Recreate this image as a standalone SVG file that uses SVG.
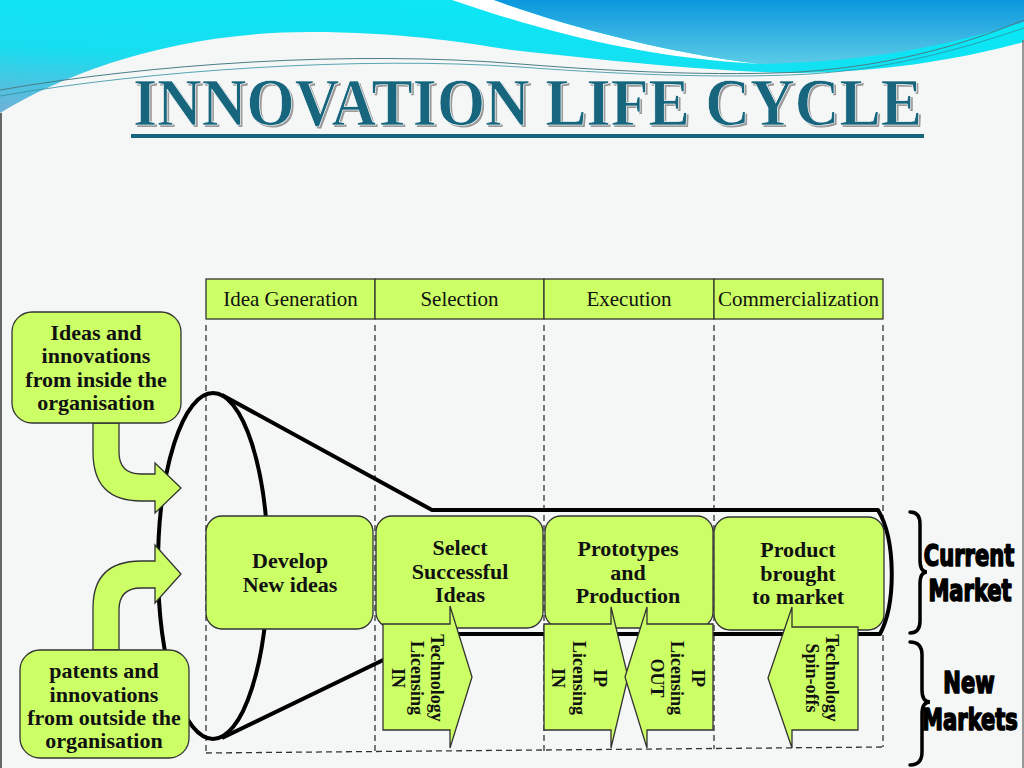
<svg xmlns="http://www.w3.org/2000/svg" width="1024" height="768" viewBox="0 0 1024 768">
<defs>
<linearGradient id="gCyan" x1="0.7" y1="0" x2="0.1" y2="1">
<stop offset="0" stop-color="#08e8f6"/>
<stop offset="0.6" stop-color="#17def0"/>
<stop offset="1" stop-color="#6ab4d8"/>
</linearGradient>
<linearGradient id="gBlue" x1="0" y1="0" x2="0" y2="1">
<stop offset="0" stop-color="#0a97de"/>
<stop offset="1" stop-color="#5ccbe6"/>
</linearGradient>
<style>
.cell{fill:#ccff66;stroke:#333;stroke-width:1.3}
.box{fill:#ccff66;stroke:#333;stroke-width:1.3}
.dash{stroke:#333;stroke-width:1.3;stroke-dasharray:6 4;fill:none}
.funnel{stroke:#000;stroke-width:4;fill:none;stroke-linejoin:round}
.brace{stroke:#000;stroke-width:3.5;fill:none;stroke-linecap:round}
.hdr{font-family:"Liberation Serif",serif;font-size:21px;fill:#111;text-anchor:middle}
.bt{font-family:"Liberation Serif",serif;font-size:22px;font-weight:bold;fill:#111;text-anchor:middle}
.vt{font-family:"Liberation Serif",serif;font-size:18px;font-weight:bold;fill:#111;text-anchor:middle;dominant-baseline:central}
.mk{font-family:"Liberation Sans Narrow","DejaVu Sans Condensed","Liberation Sans",sans-serif;font-size:30px;font-weight:bold;fill:#000;stroke:#000;stroke-width:1.6;stroke-linejoin:round;text-anchor:middle}
</style>
</defs>

<!-- background -->
<rect x="0" y="0" width="1024" height="768" fill="#f5f6f6"/>
<path d="M0,0 L1024,0 L1024,42 C980,54 900,72 800,73 C720,72 620,62 512,50 C460,42 400,32 310,32 C180,32 70,70 0,113 Z" fill="url(#gCyan)"/>
<path d="M452,0 L494,0 C560,24 660,52 760,64 C640,58 540,30 452,0 Z" fill="#ffffff"/>
<path d="M494,0 L1024,0 L1024,22 C960,42 880,62 760,64 C660,52 560,24 494,0 Z" fill="url(#gBlue)"/>
<path d="M0,90 C150,64 350,50 520,64 C620,72 720,76 800,72 C900,65 970,42 1024,20" fill="none" stroke="#4a7d86" stroke-width="1"/>
<path d="M0,96 C150,70 360,56 520,67 C640,76 740,78 810,74 C900,68 970,46 1024,28" fill="none" stroke="#2f8fa0" stroke-width="0.8"/>
<line x1="1" y1="113" x2="1" y2="768" stroke="#666" stroke-width="2"/>
<line x1="1023" y1="40" x2="1023" y2="768" stroke="#777" stroke-width="1.5"/>

<!-- title -->
<g id="title">
<text x="135" y="127" font-family="Liberation Serif,serif" font-size="68" font-weight="bold" textLength="789" lengthAdjust="spacingAndGlyphs" fill="#9a9a9a">INNOVATION LIFE CYCLE</text>
<text x="133" y="125" font-family="Liberation Serif,serif" font-size="68" font-weight="bold" textLength="789" lengthAdjust="spacingAndGlyphs" fill="#17667e" stroke="#ffffff" stroke-width="0.7">INNOVATION LIFE CYCLE</text>
<rect x="131" y="134" width="793" height="4" fill="#17667e"/>
</g>

<!-- header row -->
<g id="header">
<rect class="cell" x="206" y="279" width="169" height="40"/>
<rect class="cell" x="375" y="279" width="169" height="40"/>
<rect class="cell" x="544" y="279" width="170" height="40"/>
<rect class="cell" x="714" y="279" width="169" height="40"/>
<text class="hdr" x="290.5" y="306">Idea Generation</text>
<text class="hdr" x="459.5" y="306">Selection</text>
<text class="hdr" x="629" y="306">Execution</text>
<text class="hdr" x="798.5" y="306">Commercialization</text>
</g>

<!-- dashed grid -->
<g id="grid">
<path class="dash" d="M206,325 V753 M375,325 V752 M544,325 V751 M714,325 V749 M883,325 V747 M206,753 L883,747"/>
</g>

<!-- connectors: funnel and bent arrows -->
<g id="connectors">
<ellipse class="funnel" cx="213" cy="566" rx="55" ry="173"/>
<path class="funnel" d="M222,395 L432,510 L878,510 C896,540 896,604 880,634 L437,634 L222,738"/>
<path class="box" d="M93,423 L119,423 L119,452 Q119,474 141,474 L155,474 L155,463 L181,488 L155,513 L155,501 L141,501 Q93,501 93,452 Z"/>
<path class="box" d="M93,650 L93,608 Q93,561 141,561 L155,561 L155,545 L181,574 L155,603 L155,588 L141,588 Q119,588 119,610 L119,650 Z"/>
</g>

<!-- left source boxes -->
<g id="inside">
<rect class="box" x="12" y="312" width="169" height="111" rx="20"/>
<text class="bt" x="96" y="340">Ideas and</text>
<text class="bt" x="96" y="363">innovations</text>
<text class="bt" x="96" y="387">from inside the</text>
<text class="bt" x="96" y="410">organisation</text>
</g>
<g id="outside">
<rect class="box" x="20" y="650" width="169" height="108" rx="20"/>
<text class="bt" x="104" y="678">patents and</text>
<text class="bt" x="104" y="702">innovations</text>
<text class="bt" x="104" y="725">from outside the</text>
<text class="bt" x="104" y="748">organisation</text>
</g>

<!-- stage boxes -->
<g id="develop">
<rect class="box" x="206" y="516" width="167" height="113" rx="16"/>
<text class="bt" x="290" y="568">Develop</text>
<text class="bt" x="290" y="592">New ideas</text>
</g>
<g id="select">
<rect class="box" x="376" y="516" width="167" height="112" rx="16"/>
<text class="bt" x="460" y="555">Select</text>
<text class="bt" x="460" y="579">Successful</text>
<text class="bt" x="460" y="602">Ideas</text>
</g>
<g id="prototypes">
<rect class="box" x="545" y="516" width="168" height="112" rx="16"/>
<text class="bt" x="628" y="556">Prototypes</text>
<text class="bt" x="628" y="580">and</text>
<text class="bt" x="628" y="603">Production</text>
</g>
<g id="product">
<rect class="box" x="714" y="517" width="170" height="113" rx="16"/>
<text class="bt" x="798" y="557">Product</text>
<text class="bt" x="798" y="581">brought</text>
<text class="bt" x="798" y="604">to market</text>
</g>

<!-- licensing arrows -->
<g id="techIn">
<polygon class="box" points="383,624 450,624 450,606 472,677 450,748 450,730 383,730"/>
<text class="vt" transform="translate(437,678) rotate(90)">Technology</text>
<text class="vt" transform="translate(417,678) rotate(90)">Licensing</text>
<text class="vt" transform="translate(398,678) rotate(90)">IN</text>
</g>
<g id="ipIn">
<polygon class="box" points="544,624 611,624 611,607 628,677 611,748 611,730 544,730"/>
<text class="vt" transform="translate(600,678) rotate(90)">IP</text>
<text class="vt" transform="translate(579,678) rotate(90)">Licensing</text>
<text class="vt" transform="translate(558,678) rotate(90)">IN</text>
</g>
<g id="ipOut">
<polygon class="box" points="713,624 647,624 647,607 625,677 647,748 647,730 713,730"/>
<text class="vt" transform="translate(698,678) rotate(90)">IP</text>
<text class="vt" transform="translate(677,678) rotate(90)">Licensing</text>
<text class="vt" transform="translate(657,678) rotate(90)">OUT</text>
</g>
<g id="spinoffs">
<polygon class="box" points="858,627 792,627 792,607 768,678 792,748 792,730 858,730"/>
<text class="vt" transform="translate(832,678) rotate(90)">Technology</text>
<text class="vt" transform="translate(812,678) rotate(90)">Spin-offs</text>
</g>

<!-- market braces -->
<g id="currentMarket">
<path class="brace" d="M910,512 Q920,512 920,524 L920,560 Q920,572 927,572 Q920,572 920,584 L920,621 Q920,633 910,633"/>
<text class="mk" transform="translate(969,566) scale(0.78,1)">Current</text>
<text class="mk" transform="translate(970,601) scale(0.78,1)">Market</text>
</g>
<g id="newMarkets">
<path class="brace" d="M910,642 Q922,642 922,655 L922,690 Q922,702 930,702 Q922,702 922,714 L922,752 Q922,765 910,765"/>
<text class="mk" transform="translate(969,693) scale(0.78,1)">New</text>
<text class="mk" transform="translate(970,730) scale(0.78,1)">Markets</text>
</g>
</svg>
